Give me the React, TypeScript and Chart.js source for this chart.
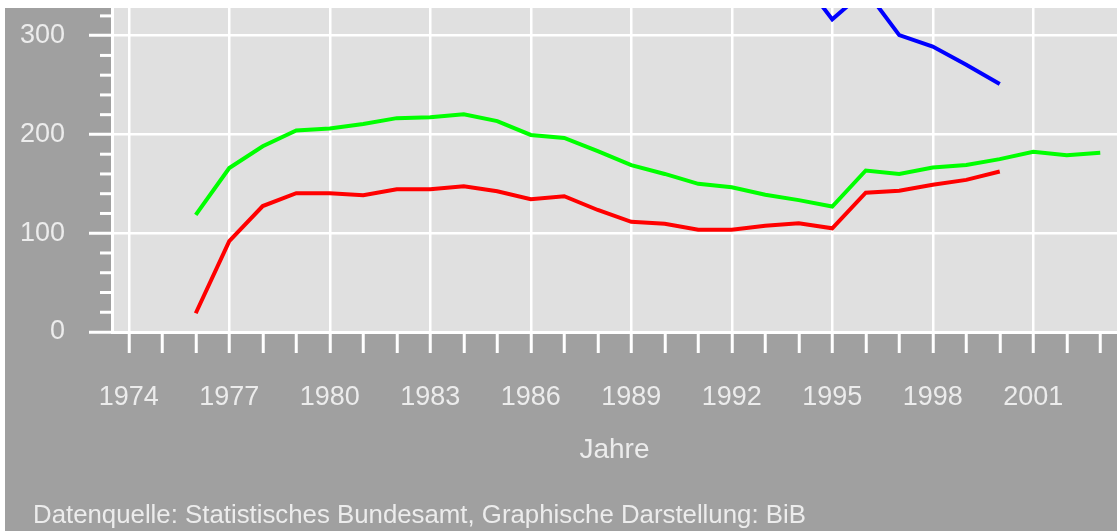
import React, { useEffect, useRef } from 'react';
import { Chart, registerables } from 'chart.js';

Chart.register(...registerables);

const years = [
  1974, 1975, 1976, 1977, 1978, 1979, 1980, 1981, 1982, 1983,
  1984, 1985, 1986, 1987, 1988, 1989, 1990, 1991, 1992, 1993,
  1994, 1995, 1996, 1997, 1998, 1999, 2000, 2001, 2002, 2003,
];

const greenSeries = [
  null, null, 118.5, 166, 188, 204, 206, 210.5, 216.5, 217.5,
  220.5, 213.5, 199.5, 196.5, 183, 169, 160, 150, 146.5, 139,
  133.5, 127, 163.5, 160, 166.5, 169, 175, 182.5, 179, 181.5,
];

const redSeries = [
  null, null, 19, 92, 127.5, 140.5, 140.5, 138.5, 144.5, 144.5,
  147.5, 142.5, 134.5, 137.5, 123.5, 111.5, 109.5, 103.5, 103.5, 107.5,
  110, 105, 141, 143, 149, 154, 162.5, null, null, null,
];

const blueSeries = [
  null, null, null, null, null, null, null, null, null, null,
  null, null, null, null, null, null, null, null, null, null,
  361, 316.5, 346, 300.5, 289, 270.5, 251, null, null, null,
];

const yMajorStep = 100;
const yMinorStep = 20;
const yMax = 328;
const xLabelEvery = 3;
const xTitle = 'Jahre';
const sourceText = 'Datenquelle: Statistisches Bundesamt, Graphische Darstellung: BiB';

const FONT = '"Liberation Sans", Arial, sans-serif';
const TEXT = '#ececec';
const WHITE = '#ffffff';
const CLEAR = 'rgba(0,0,0,0)';

const plotDecor = {
  id: 'plotDecor',
  beforeDraw(chart: any) {
    const { ctx, chartArea: a } = chart;
    ctx.save();
    ctx.fillStyle = '#e0e0e0';
    ctx.fillRect(a.left, a.top, a.right - a.left, a.bottom - a.top);
    ctx.restore();
  },
  afterDraw(chart: any) {
    const { ctx, chartArea: a } = chart;
    const y = chart.scales.y;
    ctx.save();
    ctx.strokeStyle = WHITE;
    ctx.lineWidth = 3;
    y.ticks.forEach((t: any) => {
      if (t.value % yMajorStep !== 0) {
        const py = y.getPixelForValue(t.value);
        ctx.beginPath();
        ctx.moveTo(a.left - 12, py);
        ctx.lineTo(a.left, py);
        ctx.stroke();
      }
    });
    ctx.restore();
  },
};

export default function App() {
  const ref = useRef<HTMLCanvasElement | null>(null);

  useEffect(() => {
    if (!ref.current) return;
    const chart = new Chart(ref.current, {
      type: 'line',
      data: {
        labels: years.map(String),
        datasets: [
          { data: greenSeries, borderColor: '#00ff00', borderWidth: 4, pointRadius: 0, tension: 0 },
          { data: redSeries, borderColor: '#ff0000', borderWidth: 4, pointRadius: 0, tension: 0 },
          { data: blueSeries, borderColor: '#0000ff', borderWidth: 4, pointRadius: 0, tension: 0 },
        ],
      },
      options: {
        responsive: false,
        animation: false,
        events: [],
        layout: { padding: { left: 0, right: 0, top: 0, bottom: 32.5 } },
        plugins: {
          legend: { display: false },
          tooltip: { enabled: false },
          title: { display: false },
        },
        scales: {
          x: {
            type: 'category',
            offset: true,
            afterFit: (s: any) => {
              s.height = 166.5;
              s.paddingLeft = 0;
              s.paddingRight = 0;
            },
            ticks: {
              autoSkip: false,
              maxRotation: 0,
              minRotation: 0,
              color: TEXT,
              padding: 28,
              font: { family: FONT, size: 27 },
              callback: (_v: any, i: number) => ((years[i] - years[0]) % xLabelEvery === 0 ? String(years[i]) : ''),
            },
            grid: {
              offset: false,
              color: (c: any) => (c.index % xLabelEvery === 0 ? WHITE : CLEAR),
              tickColor: WHITE,
              lineWidth: 2.5,
              tickWidth: 3,
              tickLength: 21,
            },
            border: { display: true, color: WHITE, width: 3 },
            title: {
              display: true,
              text: xTitle,
              color: TEXT,
              font: { family: FONT, size: 28 },
              padding: { top: 0, bottom: 31.7 },
            },
          },
          y: {
            min: 0,
            max: yMax,
            afterFit: (s: any) => {
              s.width = 107;
              s.paddingTop = 0;
              s.paddingBottom = 0;
            },
            ticks: {
              stepSize: yMinorStep,
              includeBounds: false,
              autoSkip: false,
              color: TEXT,
              padding: 24,
              font: { family: FONT, size: 27 },
              callback: (v: any) => (Number(v) % yMajorStep === 0 ? String(v) : ''),
            },
            grid: {
              color: (c: any) => (c.tick && c.tick.value % yMajorStep === 0 ? WHITE : CLEAR),
              tickColor: (c: any) => (c.tick && c.tick.value % yMajorStep === 0 ? WHITE : CLEAR),
              lineWidth: 2.5,
              tickWidth: 3,
              tickLength: 23,
            },
            border: { display: true, color: WHITE, width: 3 },
          },
        },
      },
      plugins: [plotDecor],
    } as any);
    return () => chart.destroy();
  }, []);

  return (
    <div style={{ position: 'absolute', left: 5, top: 8, width: 1112, height: 523, background: '#a0a0a0', overflow: 'hidden' }}>
      <canvas ref={ref} width={1112} height={523} style={{ display: 'block' }} />
      <div
        style={{
          position: 'absolute',
          left: 28,
          top: 490.5,
          fontFamily: FONT,
          fontSize: 25.8,
          lineHeight: '30px',
          color: TEXT,
          whiteSpace: 'nowrap',
        }}
      >
        {sourceText}
      </div>
    </div>
  );
}
